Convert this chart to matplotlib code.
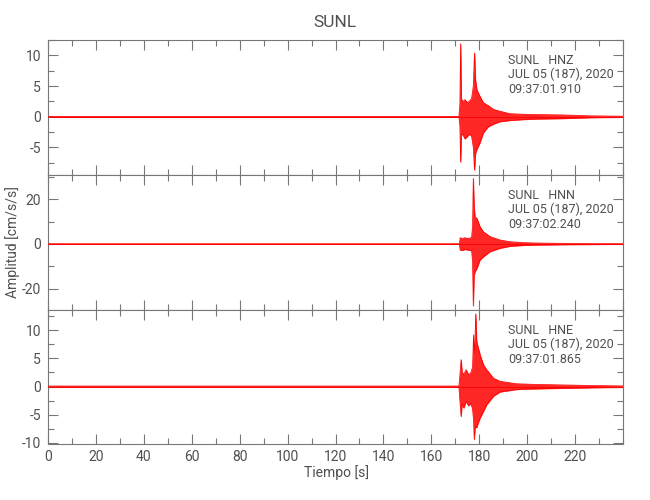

# Three component acceleration record for station SUNL
import numpy as np
from matplotlib import pyplot as plt
from matplotlib.ticker import MultipleLocator

station = 'SUNL'
channels = ['HNZ', 'HNN', 'HNE']
date_label = 'JUL 05 (187), 2020'
start_times = ['09:37:01.910', '09:37:02.240', '09:37:01.865']

# Envelope of each trace (time in s, upper and lower amplitude in cm/s/s)
t_hnz = [0, 171.5, 171.9, 172.2, 172.5, 173.0, 174.0, 175.0, 176.0, 176.8, 177.5, 178.0, 178.4,
         179.0, 180.3, 181.7, 183.8, 185.9, 188.6, 192.8, 198.4, 205, 214, 226, 240]
up_hnz = [0.05, 0.05, 2.0, 11.9, 3.0, 2.4, 2.8, 2.3, 2.6, 3.0, 5.0, 10.4, 6.0,
          4.4, 3.3, 2.3, 1.8, 1.2, 0.9, 0.5, 0.4, 0.35, 0.3, 0.15, 0.08]
lo_hnz = [-0.05, -0.05, -1.5, -7.4, -3.0, -2.8, -3.6, -3.2, -2.8, -3.2, -5.0, -8.7, -6.0,
          -5.3, -4.2, -2.6, -1.6, -1.2, -0.8, -0.6, -0.45, -0.35, -0.3, -0.15, -0.08]

t_hnn = [0, 171.7, 172.0, 173.0, 174.0, 175.0, 176.0, 176.8, 177.2, 177.5, 177.8, 178.2, 179.0,
         180.3, 181.7, 184.5, 188.6, 192.8, 198.4, 205, 214, 226, 240]
up_hnn = [0.1, 0.1, 2.8, 2.4, 2.8, 2.5, 2.6, 3.0, 8.0, 29.3, 17.4, 12.0, 11.5,
          7.7, 5.5, 3.3, 1.8, 1.0, 0.6, 0.4, 0.3, 0.2, 0.1]
lo_hnn = [-0.1, -0.1, -2.7, -2.8, -2.4, -2.6, -2.8, -3.0, -8.0, -27.7, -14.0, -12.4, -10.9,
          -7.1, -5.7, -3.4, -1.9, -1.0, -0.6, -0.4, -0.3, -0.2, -0.1]

t_hne = [0, 171.5, 171.9, 172.4, 172.8, 173.5, 174.5, 175.5, 176.5, 177.2, 177.6, 177.9, 178.2,
         178.5, 178.9, 179.5, 180.3, 181.7, 183.1, 185.9, 188.6, 195.6, 202.5, 214, 226, 240]
up_hne = [0.1, 0.1, 2.0, 4.8, 2.5, 2.2, 3.0, 2.1, 2.5, 3.5, 9.2, 6.0, 8.0,
          12.9, 8.0, 7.0, 5.7, 3.9, 3.0, 1.5, 0.95, 0.5, 0.4, 0.3, 0.2, 0.12]
lo_hne = [-0.1, -0.1, -2.5, -5.3, -3.0, -3.8, -2.6, -3.4, -3.0, -4.0, -6.0, -9.4, -7.5,
          -7.0, -7.3, -6.5, -5.6, -4.4, -3.2, -1.7, -0.95, -0.5, -0.4, -0.3, -0.2, -0.12]

y_limits = [(-9.5, 12.5), (-29.5, 30.8), (-10.2, 13.6)]
y_major = [5, 20, 5]
y_minor = [2.5, 10, 2.5]

GRAY = '#777777'
TXT = '#505050'
FONT = ['Roboto', 'DejaVu Sans']
FW = 'normal'

plt.rcParams['axes.unicode_minus'] = False


def draw_trace(ax, t, up, lo, text_lines):
    ax.axhline(0, color='#cc0000', lw=0.6, zorder=1)
    ax.fill_between(t, lo, up, color='red', lw=0.4, alpha=0.85, zorder=2)
    ax.plot(t, up, color='red', lw=0.5, zorder=3)
    ax.plot(t, lo, color='red', lw=0.5, zorder=3)

    for frac, s in zip([0.846, 0.743, 0.630], text_lines):
        ax.text(0.80, frac, s, transform=ax.transAxes, va='center', ha='left',
                fontsize=9, color=TXT, family=FONT, weight=FW)


def main():
    fig = plt.figure(figsize=(6.5, 5), dpi=100)
    left, width = 48 / 650, 575 / 650
    edges = [40, 175, 310, 444]
    traces = [(t_hnz, up_hnz, lo_hnz), (t_hnn, up_hnn, lo_hnn), (t_hne, up_hne, lo_hne)]

    axes = []
    for i in range(3):
        bottom = 1 - edges[i + 1] / 500
        height = (edges[i + 1] - edges[i]) / 500
        ax = fig.add_axes([left, bottom, width, height])
        t, up, lo = traces[i]
        draw_trace(ax, t, up, lo, [station + '   ' + channels[i], date_label, start_times[i]])

        ax.set_xlim(0, 240)
        ax.set_ylim(*y_limits[i])
        ax.xaxis.set_major_locator(MultipleLocator(20))
        ax.xaxis.set_minor_locator(MultipleLocator(10))
        ax.yaxis.set_major_locator(MultipleLocator(y_major[i]))
        ax.yaxis.set_minor_locator(MultipleLocator(y_minor[i]))
        ax.tick_params(axis='both', which='both', direction='in', top=True, right=True,
                       color=GRAY, labelcolor=TXT, labelsize=10)
        ax.tick_params(which='major', length=7, width=0.8)
        ax.tick_params(which='minor', length=4, width=0.8)
        ax.tick_params(axis='y', pad=5)
        ax.tick_params(axis='x', pad=4)
        for sp in ax.spines.values():
            sp.set_color(GRAY)
            sp.set_linewidth(0.8)
        if i < 2:
            ax.tick_params(labelbottom=False)
        axes.append(ax)

    # the bottom panel shows labels up to 220 only
    axes[2].set_xticks(np.arange(0, 221, 20))
    axes[2].xaxis.set_minor_locator(MultipleLocator(10))
    for ax in axes:
        for lab in ax.get_xticklabels() + ax.get_yticklabels():
            lab.set_family(FONT)
            lab.set_weight(FW)

    fig.text(0.516, 1 - 22.5 / 500, station, ha='center', va='center',
             fontsize=12.5, color=TXT, family=FONT, weight=FW)
    fig.text(0.517, 1 - 473 / 500, 'Tiempo [s]', ha='center', va='center',
             fontsize=10, color=TXT, family=FONT, weight=FW)
    fig.text(13 / 650, 1 - 242 / 500, 'Amplitud [cm/s/s]', ha='center', va='center',
             rotation=90, fontsize=10, color=TXT, family=FONT, weight=FW)

    fig.savefig('out.png', dpi=100)


if __name__ == '__main__':
    main()
